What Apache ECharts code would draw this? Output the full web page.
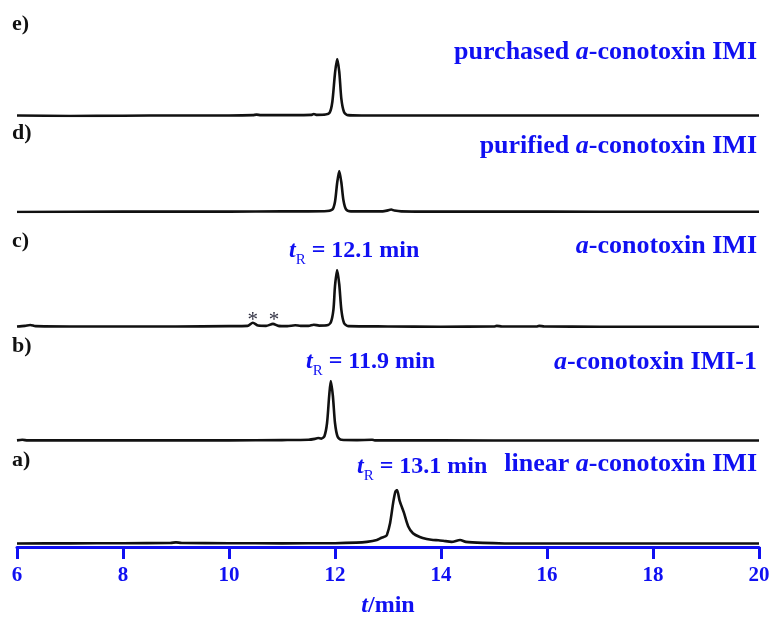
<!DOCTYPE html>
<html>
<head>
    <meta charset="utf-8">
    <title>HPLC 色谱图</title>
    <script src="https://cdn.jsdelivr.net/npm/echarts@6/dist/echarts.min.js"></script>
    <style>html, body { margin: 0; padding: 0; background: #fff; }</style>
</head>
<body>
    <div id="chart" style="width: 773px;height:621px;"></div>

    <script>
        // 色谱数据 [t/min, 归一化信号]，从下往上 a) ~ e)
        const traceA = [[6,0.01],[7,0.012],[8,0.015],[8.9,0.02],[9.0,0.03],[9.1,0.02],[10,0.015],[11,0.012],[12,0.015],
            [12.4,0.025],[12.6,0.04],[12.79,0.074],[12.88,0.117],[12.95,0.14],[12.98,0.17],[13.04,0.39],[13.1,0.78],
            [13.14,0.97],[13.17,1.0],[13.22,0.8],[13.3,0.58],[13.38,0.33],[13.47,0.2],[13.6,0.13],[13.73,0.093],[13.85,0.074],
            [13.95,0.07],[14.04,0.06],[14.2,0.04],[14.36,0.074],[14.47,0.04],[14.79,0.02],[15.2,0.01],[16,0.008],
            [18,0.008],[20,0.008]];
        const traceB = [[6,0.01],[6.1,0.02],[6.2,0.01],[8,0.01],[10,0.01],[11,0.015],[11.5,0.02],[11.62,0.035],
            [11.68,0.05],[11.74,0.04],[11.8,0.08],[11.85,0.3],[11.89,0.75],[11.92,1.0],[11.96,0.75],[12.0,0.3],
            [12.05,0.07],[12.12,0.02],[12.4,0.015],[12.7,0.02],[12.75,0.01],[14,0.01],[16,0.008],[18,0.008],[20,0.008]];
        const traceC = [[6,0.01],[6.15,0.02],[6.25,0.035],[6.35,0.015],[7,0.01],[8,0.01],[9,0.01],[10,0.015],
            [10.35,0.02],[10.45,0.075],[10.55,0.025],[10.7,0.02],[10.83,0.055],[10.93,0.02],[11.1,0.015],[11.25,0.03],
            [11.35,0.02],[11.5,0.02],[11.6,0.04],[11.7,0.025],[11.85,0.03],[11.92,0.08],[11.97,0.3],[12.0,0.72],
            [12.04,1.0],[12.08,0.75],[12.12,0.3],[12.17,0.07],[12.25,0.015],[13,0.01],[14,0.005],[15,0.01],[15.05,0.02],
            [15.15,0.01],[15.8,0.01],[15.85,0.02],[15.95,0.01],[17,0.005],[18,0.005],[20,0.005]];
        const traceD = [[6,0.0],[8,0.01],[10,0.01],[11,0.015],[11.8,0.02],[11.95,0.06],[12.0,0.25],[12.04,0.7],
            [12.08,1.0],[12.12,0.72],[12.16,0.28],[12.21,0.06],[12.3,0.015],[12.9,0.015],[13.0,0.04],[13.06,0.06],
            [13.12,0.035],[13.25,0.015],[14,0.01],[16,0.01],[18,0.005],[20,0.005]];
        const traceE = [[6,0.01],[7,0.0],[8,0.005],[9,0.01],[10,0.01],[10.45,0.015],[10.52,0.025],[10.6,0.015],
            [11.2,0.015],[11.55,0.02],[11.6,0.035],[11.66,0.02],[11.82,0.025],[11.9,0.06],[11.95,0.25],[12.0,0.75],
            [12.04,1.0],[12.08,0.78],[12.12,0.3],[12.17,0.07],[12.24,0.015],[12.5,0.01],[14,0.01],[16,0.01],
            [18,0.008],[20,0.008]];

        const traces = [traceA, traceB, traceC, traceD, traceE];
        const panelLetters = ['a)', 'b)', 'c)', 'd)', 'e)'];
        const sampleNames = ['linear a-conotoxin IMI', 'a-conotoxin IMI-1', 'a-conotoxin IMI',
            'purified a-conotoxin IMI', 'purchased a-conotoxin IMI'];
        const retentionTimes = ['13.1', '11.9', '12.1'];   // a, b, c
        const asteriskT = [10.45, 10.85];                  // c) 中的杂质峰
        const xMin = 6, xMax = 20, xStep = 2;

        // 版面位置（像素）
        const panels = [
            { top: 490, height: 54, letterY: 461, nameY: 464, tr: [357, 467] },
            { top: 381, height: 60, letterY: 347, nameY: 362, tr: [306, 362] },
            { top: 270, height: 57, letterY: 242, nameY: 246, tr: [289, 251] },
            { top: 171, height: 41, letterY: 134, nameY: 146 },
            { top: 59,  height: 57, letterY: 25,  nameY: 52 }
        ];

        const blue = '#1010f2';
        const serif = '"Liberation Serif", "DejaVu Serif", serif';

        const chartDom = document.getElementById('chart');
        const myChart = echarts.init(chartDom);

        // 名称中 a 为斜体
        function nameRich(s) {
            const k = s.indexOf('a-');
            let out = '';
            if (k > 0) out += '{n|' + s.slice(0, k) + '}';
            return out + '{i|a}{n|' + s.slice(k + 1) + '}';
        }

        const grids = [], xAxes = [], yAxes = [], series = [], graphics = [];
        panels.forEach(function (p, i) {
            grids.push({ left: 17, right: 14, top: p.top, height: p.height });
            const isBottom = i === 0;
            xAxes.push({
                gridIndex: i, type: 'value', min: xMin, max: xMax, interval: xStep,
                show: isBottom,
                offset: isBottom ? 3 : 0,
                axisLine: { onZero: false, lineStyle: { color: blue, width: 3 } },
                axisTick: { show: true, length: 12, lineStyle: { color: blue, width: 3 } },
                axisLabel: { color: blue, fontFamily: serif, fontWeight: 'bold', fontSize: 21, margin: 18 },
                splitLine: { show: false },
                name: isBottom ? '{i|t}{n|/min}' : '',
                nameLocation: 'middle',
                nameGap: 47,
                nameTextStyle: {
                    rich: {
                        i: { color: blue, fontFamily: serif, fontWeight: 'bold', fontStyle: 'italic', fontSize: 24 },
                        n: { color: blue, fontFamily: serif, fontWeight: 'bold', fontSize: 24 }
                    }
                }
            });
            yAxes.push({ gridIndex: i, type: 'value', min: 0, max: 1, show: false });
            const s = {
                type: 'line', xAxisIndex: i, yAxisIndex: i,
                data: traces[i], showSymbol: false, smooth: 0.25,
                lineStyle: { color: '#111', width: 2.6 },
                silent: true
            };
            if (i === 2) {
                s.markPoint = {
                    symbol: 'circle', symbolSize: 0,
                    label: { show: true, formatter: '*', color: '#334', fontSize: 21, fontFamily: serif },
                    data: asteriskT.map(function (t) { return { coord: [t, 0.12] }; })
                };
            }
            series.push(s);

            // 左侧字母
            graphics.push({
                type: 'text', left: 12, top: p.letterY - 12,
                style: { text: panelLetters[i], fill: '#111', font: 'bold 22px ' + serif }
            });
            // 右侧样品名
            graphics.push({
                type: 'text', x: 757, y: p.nameY,
                style: {
                    text: nameRich(sampleNames[i]), align: 'right', verticalAlign: 'middle',
                    rich: {
                        n: { fill: blue, fontFamily: serif, fontWeight: 'bold', fontSize: 26 },
                        i: { fill: blue, fontFamily: serif, fontWeight: 'bold', fontStyle: 'italic', fontSize: 26 }
                    }
                }
            });
            // 保留时间
            if (p.tr) {
                graphics.push({
                    type: 'text', x: p.tr[0], y: p.tr[1],
                    style: {
                        text: '{t|t}{r|R}{n| = ' + retentionTimes[i] + ' min}', align: 'left', verticalAlign: 'middle',
                        rich: {
                            t: { fill: blue, fontFamily: serif, fontWeight: 'bold', fontStyle: 'italic', fontSize: 24 },
                            r: { fill: blue, fontFamily: serif, fontSize: 15, padding: [18, 0, 0, 0] },
                            n: { fill: blue, fontFamily: serif, fontWeight: 'bold', fontSize: 24 }
                        }
                    }
                });
            }
        });

        const option = {
            animation: false,
            backgroundColor: '#fff',
            grid: grids,
            xAxis: xAxes,
            yAxis: yAxes,
            series: series,
            graphic: graphics
        };

        option && myChart.setOption(option);
    </script>
</body>
</html>
